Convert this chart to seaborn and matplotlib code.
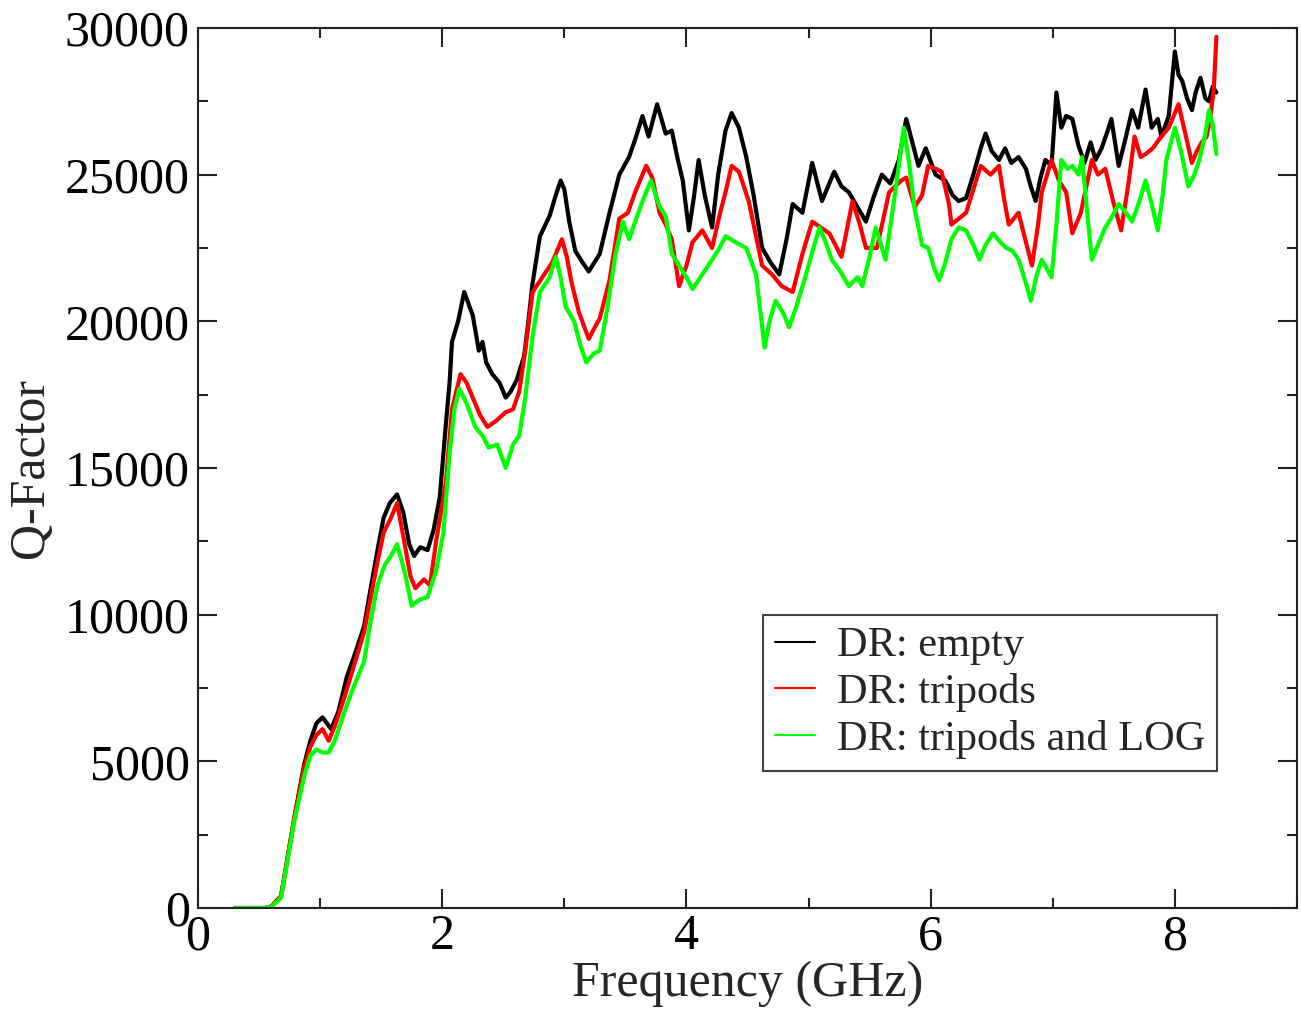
import numpy as np
import pandas as pd
import matplotlib
matplotlib.use("Agg")
import matplotlib.pyplot as plt
from matplotlib.ticker import MultipleLocator
import seaborn as sns

# ---------------- data ----------------
freq_empty = [0.30, 0.55, 0.60, 0.68, 0.79, 0.87, 0.92, 0.97, 1.02, 1.09, 1.15, 1.22, 1.28, 1.36, 1.41,
              1.47, 1.52, 1.57, 1.63, 1.68, 1.73, 1.77, 1.82, 1.88, 1.93, 1.98, 2.03, 2.06, 2.08, 2.13,
              2.18, 2.25, 2.30, 2.33, 2.36, 2.41, 2.47, 2.52, 2.56, 2.61, 2.67, 2.70, 2.74, 2.80, 2.88,
              2.93, 2.97, 3.00, 3.04, 3.09, 3.15, 3.20, 3.29, 3.37, 3.45, 3.53, 3.58, 3.64, 3.69, 3.76,
              3.83, 3.88, 3.93, 3.97, 4.02, 4.06, 4.10, 4.15, 4.21, 4.26, 4.32, 4.37, 4.43, 4.49, 4.55,
              4.62, 4.69, 4.76, 4.82, 4.87, 4.95, 5.03, 5.11, 5.21, 5.27, 5.33, 5.40, 5.47, 5.53, 5.60,
              5.67, 5.74, 5.80, 5.85, 5.90, 5.96, 6.04, 6.12, 6.18, 6.23, 6.29, 6.35, 6.41, 6.45, 6.50,
              6.56, 6.61, 6.66, 6.72, 6.78, 6.82, 6.86, 6.90, 6.94, 6.99, 7.03, 7.07, 7.11, 7.16, 7.21,
              7.26, 7.31, 7.35, 7.40, 7.45, 7.48, 7.54, 7.60, 7.65, 7.70, 7.76, 7.81, 7.86, 7.89, 7.95,
              8.00, 8.03, 8.06, 8.10, 8.14, 8.17, 8.21, 8.25, 8.28, 8.31, 8.34]
q_empty = [0, 0, 50, 400, 3100, 4900, 5700, 6300, 6500, 6100, 6700, 7900, 8600, 9600, 10800,
           12200, 13300, 13800, 14100, 13500, 12400, 12000, 12300, 12200, 12900, 14000, 16500, 17900, 19300, 20000,
           21000, 20200, 19000, 19300, 18600, 18200, 17900, 17400, 17600, 18000, 18800, 19800, 21300, 22900, 23600,
           24300, 24800, 24500, 23400, 22400, 22000, 21700, 22300, 23700, 25000, 25600, 26200, 27000, 26300, 27400,
           26400, 26500, 25500, 24800, 23100, 24200, 25500, 24300, 23200, 25000, 26500, 27100, 26600, 25600, 24300,
           22500, 22000, 21600, 22800, 24000, 23700, 25400, 24100, 25100, 24600, 24400, 23900, 23400, 24200, 25000,
           24700, 25500, 26900, 26100, 25300, 25900, 25000, 24800, 24300, 24100, 24200, 25000, 25900, 26400, 25800,
           25500, 25900, 25400, 25600, 25200, 24600, 24100, 24900, 25500, 25300, 27800, 26600, 27000, 26900, 26000,
           25400, 26100, 25500, 25900, 26500, 26900, 25300, 26300, 27200, 26600, 27900, 26600, 26900, 26300, 27000,
           29200, 28400, 28200, 27600, 27200, 27800, 28300, 27600, 27500, 28000, 27800]

freq_tripods = [0.30, 0.55, 0.60, 0.68, 0.79, 0.87, 0.92, 0.97, 1.02, 1.07, 1.12, 1.20, 1.28, 1.36, 1.41,
                1.47, 1.52, 1.58, 1.63, 1.68, 1.74, 1.78, 1.85, 1.90, 1.95, 2.03, 2.08, 2.15, 2.20, 2.25,
                2.31, 2.37, 2.44, 2.52, 2.58, 2.63, 2.68, 2.74, 2.82, 2.90, 2.98, 3.02, 3.06, 3.12, 3.20,
                3.25, 3.29, 3.37, 3.45, 3.52, 3.58, 3.67, 3.72, 3.78, 3.83, 3.88, 3.94, 4.00, 4.05, 4.13,
                4.21, 4.27, 4.32, 4.37, 4.43, 4.51, 4.57, 4.62, 4.70, 4.78, 4.87, 4.95, 5.03, 5.10, 5.17,
                5.27, 5.36, 5.42, 5.47, 5.56, 5.66, 5.76, 5.80, 5.87, 5.93, 5.98, 6.04, 6.09, 6.15, 6.17,
                6.23, 6.29, 6.35, 6.41, 6.49, 6.56, 6.60, 6.64, 6.72, 6.78, 6.83, 6.88, 6.91, 6.99, 7.05,
                7.11, 7.16, 7.23, 7.28, 7.32, 7.37, 7.43, 7.50, 7.56, 7.62, 7.67, 7.72, 7.76, 7.82, 7.87,
                7.95, 8.03, 8.08, 8.14, 8.18, 8.22, 8.26, 8.29, 8.32, 8.34]
q_tripods = [0, 0, 50, 400, 3100, 4800, 5500, 5900, 6100, 5700, 6200, 7200, 8300, 9400, 10500,
             11800, 12800, 13300, 13800, 12700, 11300, 10900, 11200, 11000, 12500, 14500, 17000, 18200, 17900, 17400,
             16800, 16400, 16600, 16900, 17000, 17600, 19000, 21000, 21500, 22000, 22800, 22200, 21300, 20300, 19400,
             19800, 20100, 21400, 23500, 23700, 24400, 25300, 24900, 23700, 23300, 22800, 21200, 21900, 22700, 23100,
             22500, 23600, 24400, 25300, 25100, 24100, 22900, 21900, 21600, 21200, 21000, 22300, 23400, 23200, 23000,
             22200, 24100, 23300, 22500, 22500, 24400, 24800, 24900, 23900, 24300, 25300, 25200, 25100, 24000, 23300,
             23500, 23700, 24500, 25300, 25000, 25300, 24200, 23300, 23700, 22700, 21900, 23300, 24400, 25500, 24800,
             24400, 23000, 23700, 24700, 25500, 25000, 25200, 24000, 23100, 24700, 26300, 25600, 25700, 25900, 26200,
             26600, 27400, 26500, 25400, 25800, 26100, 26300, 26900, 28000, 29700]

freq_log = [0.30, 0.55, 0.60, 0.68, 0.79, 0.87, 0.92, 0.97, 1.02, 1.07, 1.12, 1.20, 1.28, 1.36, 1.41,
            1.47, 1.53, 1.58, 1.63, 1.69, 1.75, 1.81, 1.88, 1.95, 2.01, 2.06, 2.10, 2.14, 2.20, 2.27,
            2.33, 2.38, 2.45, 2.52, 2.58, 2.63, 2.68, 2.74, 2.80, 2.88, 2.93, 2.97, 3.01, 3.08, 3.13,
            3.18, 3.24, 3.29, 3.35, 3.42, 3.48, 3.53, 3.58, 3.65, 3.71, 3.78, 3.83, 3.88, 3.94, 4.00,
            4.05, 4.13, 4.21, 4.27, 4.32, 4.40, 4.49, 4.57, 4.64, 4.68, 4.73, 4.79, 4.84, 4.90, 4.98,
            5.04, 5.09, 5.14, 5.19, 5.26, 5.33, 5.40, 5.44, 5.50, 5.55, 5.63, 5.71, 5.78, 5.82, 5.87,
            5.93, 5.98, 6.03, 6.07, 6.12, 6.17, 6.23, 6.29, 6.35, 6.40, 6.45, 6.51, 6.57, 6.62, 6.67,
            6.72, 6.78, 6.82, 6.87, 6.91, 6.95, 6.99, 7.03, 7.07, 7.12, 7.16, 7.21, 7.24, 7.28, 7.32,
            7.37, 7.43, 7.49, 7.54, 7.60, 7.65, 7.71, 7.76, 7.81, 7.86, 7.90, 7.93, 8.00, 8.05, 8.11,
            8.16, 8.20, 8.25, 8.28, 8.31, 8.34]
q_log = [0, 0, 40, 350, 3000, 4500, 5200, 5400, 5300, 5300, 5700, 6700, 7600, 8400, 9700,
         11000, 11700, 12000, 12400, 11500, 10300, 10500, 10600, 11500, 12800, 15500, 17000, 17700, 17200, 16400,
         16100, 15700, 15800, 15000, 15800, 16100, 17400, 19500, 21000, 21500, 22200, 21500, 20500, 20000, 19200,
         18600, 18900, 19000, 20400, 22300, 23400, 22800, 23400, 24200, 24800, 23900, 23600, 22300, 21900, 21500,
         21100, 21600, 22100, 22500, 22900, 22700, 22500, 21600, 19100, 20000, 20700, 20300, 19800, 20500, 21600,
         22500, 23200, 22700, 22100, 21700, 21200, 21500, 21200, 22200, 23200, 22100, 24400, 26600, 25500, 23800,
         22600, 22500, 21800, 21400, 22000, 22800, 23200, 23100, 22600, 22100, 22600, 23000, 22700, 22500, 22400,
         22100, 21300, 20700, 21600, 22100, 21800, 21500, 23300, 25500, 25200, 25300, 25000, 25600, 23800, 22100,
         22600, 23200, 23600, 24000, 23700, 23400, 24100, 24800, 24000, 23100, 24300, 25500, 26600, 25800, 24600,
         25000, 25500, 26400, 27200, 26700, 25700]

labels = ["DR: empty", "DR: tripods", "DR: tripods and LOG"]
colors = ["#000000", "#ff0000", "#00ff00"]
x_ticks = [0, 2, 4, 6, 8]
y_ticks = [0, 5000, 10000, 15000, 20000, 25000, 30000]

df = pd.concat([
    pd.DataFrame({"Frequency": freq_empty, "Q": q_empty, "series": labels[0]}),
    pd.DataFrame({"Frequency": freq_tripods, "Q": q_tripods, "series": labels[1]}),
    pd.DataFrame({"Frequency": freq_log, "Q": q_log, "series": labels[2]}),
], ignore_index=True)

# ---------------- style ----------------
sns.set_style("ticks")
plt.rcParams["font.family"] = ["Liberation Serif", "DejaVu Serif"]
plt.rcParams["axes.linewidth"] = 1.5

fig = plt.figure(figsize=(13.01, 10.10), dpi=100)
ax = fig.add_axes([0.1522, 0.101, 0.9969 - 0.1522, 0.9723 - 0.101])

sns.lineplot(data=df, x="Frequency", y="Q", hue="series", hue_order=labels,
             palette=dict(zip(labels, colors)), linewidth=3.0, ax=ax, sort=False,
             estimator=None)

ax.set_xlim(0, 9)
ax.set_ylim(0, 30000)
ax.set_xticks(x_ticks)
ax.set_yticks(y_ticks)
ax.xaxis.set_minor_locator(MultipleLocator(1))
ax.yaxis.set_minor_locator(MultipleLocator(2500))
ax.tick_params(which="both", direction="in", top=True, right=True, width=1.5,
               labelsize=36, colors="#222222", labelcolor="black")
ax.tick_params(which="major", length=14, pad=6)
ax.tick_params(which="minor", length=7)
ax.tick_params(axis="x", which="major", pad=4)
for s in ax.spines.values():
    s.set_color("#222222")
    s.set_visible(True)

ax.set_xlabel("Frequency (GHz)", fontsize=36, labelpad=0)
ax.set_ylabel("Q-Factor", fontsize=36, labelpad=8)

handles, labs = ax.get_legend_handles_labels()
for h in handles:
    h.set_linewidth(1.5)
leg = ax.legend(handles, labs, loc="upper left", bbox_to_anchor=(0.514, 0.333),
                borderaxespad=0, fontsize=30.5, frameon=True, fancybox=False,
                handlelength=0.95, handletextpad=0.52, borderpad=0.28,
                labelspacing=0.18, edgecolor="#444444")
leg.get_frame().set_linewidth(1.5)
leg.get_frame().set_alpha(1)

fig.savefig("out.png", dpi=100)
